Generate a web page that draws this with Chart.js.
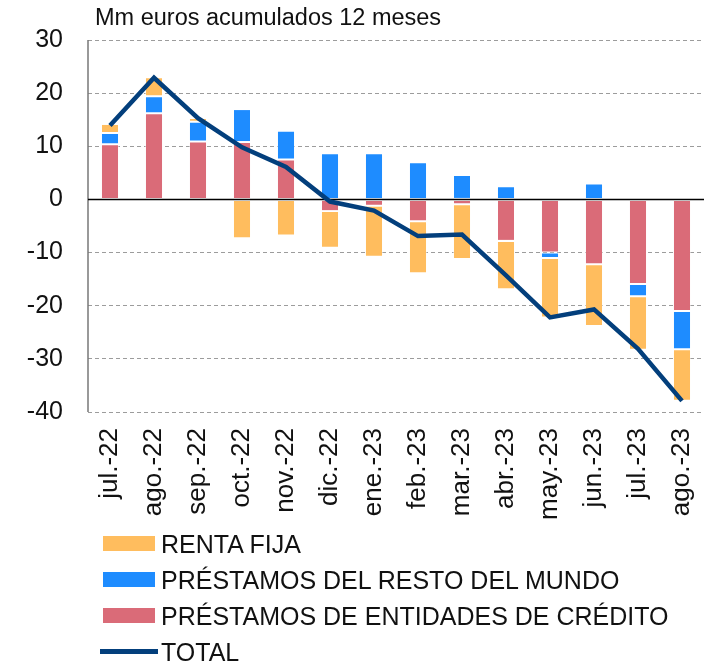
<!DOCTYPE html>
<html>
<head>
<meta charset="utf-8">
<script src="https://cdn.jsdelivr.net/npm/chart.js@4"></script>
<style>
  body { margin: 0; background: #fff; font-family: "Liberation Sans", Arial, sans-serif; }
  #wrap { position: relative; width: 715px; height: 664px; }
  #title { position: absolute; left: 95px; top: 6px; font-size: 23.5px; line-height: 1; color: #111; white-space: nowrap; }
  #legend { position: absolute; left: 0; top: 526px; }
  .row { position: relative; height: 36px; width: 700px; font-size: 25px; line-height: 36px; color: #111; white-space: nowrap; }
  .row .box { position: absolute; left: 103px; top: 10px; width: 52px; height: 15px; }
  .row .ln { position: absolute; left: 100px; top: 15px; width: 58px; height: 5px; }
  .row span { position: absolute; left: 161px; top: 0; }
</style>
</head>
<body>
<div id="wrap">
  <canvas id="chart" width="715" height="540"></canvas>
  <div id="title">Mm euros acumulados 12 meses</div>
  <div id="legend"></div>
</div>
<script>
const labels = ["jul.-22", "ago.-22", "sep.-22", "oct.-22", "nov.-22", "dic.-22", "ene.-23",
                "feb.-23", "mar.-23", "abr.-23", "may.-23", "jun.-23", "jul.-23", "ago.-23"];

const rentaFija   = [1.7, 3.6, 0.7, -7.3, -6.8, -6.9, -9.6, -9.8, -10.3, -9.1, -11.2, -11.6, -10.1, -9.7];
const restoMundo  = [2.1, 3.2, 3.7, 6.2, 5.4, 8.7, 8.7, 7.0, 4.6, 2.5, -1.0, 3.0, -2.3, -7.2];
const entidades   = [10.4, 16.2, 10.9, 10.8, 7.5, -2.2, -1.2, -4.1, -0.9, -7.8, -10.0, -12.2, -15.9, -21.0];
const total       = [13.9, 22.9, 15.3, 9.8, 6.1, -0.4, -2.1, -6.9, -6.6, -14.3, -22.2, -20.7, -28.1, -37.9];

const yTicks = [30, 20, 10, 0, -10, -20, -30, -40];

const names = ["RENTA FIJA", "PRÉSTAMOS DEL RESTO DEL MUNDO", "PRÉSTAMOS DE ENTIDADES DE CRÉDITO", "TOTAL"];
const colors = ["#FFBD5E", "#1E8CFF", "#DA6B78", "#033F7C"];

const FONT = "'Liberation Sans', Arial, sans-serif";

// axis line on the left and the black line at zero
const axesPlugin = {
  id: "axes",
  beforeDatasetsDraw(chart) {
    const { ctx, chartArea } = chart;
    ctx.save();
    ctx.strokeStyle = "#777";
    ctx.lineWidth = 1.5;
    ctx.beginPath();
    ctx.moveTo(chartArea.left, chartArea.top);
    ctx.lineTo(chartArea.left, chartArea.bottom);
    ctx.stroke();
    ctx.restore();
  },
  beforeDatasetDraw(chart, args) {
    if (chart.data.datasets[args.index].type !== "line") return;
    const { ctx, chartArea } = chart;
    const y0 = chart.scales.y.getPixelForValue(0);
    ctx.save();
    ctx.strokeStyle = "#000";
    ctx.lineWidth = 1.5;
    ctx.beginPath();
    ctx.moveTo(chartArea.left, y0);
    ctx.lineTo(chartArea.right, y0);
    ctx.stroke();
    ctx.restore();
  }
};

function barSet(i, data, order) {
  return {
    type: "bar",
    label: names[i],
    data: data,
    backgroundColor: colors[i],
    borderColor: "rgba(255,255,255,0.45)",
    borderWidth: 1,
    borderSkipped: false,
    stack: "s",
    order: order,
    categoryPercentage: 1,
    barPercentage: 0.41
  };
}

new Chart(document.getElementById("chart"), {
  data: {
    labels: labels,
    datasets: [
      barSet(0, rentaFija, 3),
      barSet(1, restoMundo, 2),
      barSet(2, entidades, 1),
      {
        type: "line",
        label: names[3],
        data: total,
        borderColor: colors[3],
        borderWidth: 4.5,
        pointRadius: 0,
        tension: 0,
        stack: "line",
        order: 0,
        borderJoinStyle: "miter"
      }
    ]
  },
  options: {
    responsive: false,
    animation: false,
    devicePixelRatio: 1,
    layout: { padding: { top: 40, right: 0, left: 0, bottom: 0 } },
    plugins: { legend: { display: false }, tooltip: { enabled: false } },
    scales: {
      x: {
        stacked: true,
        offset: true,
        grid: { display: false, drawTicks: false },
        border: { display: false },
        ticks: {
          minRotation: 90, maxRotation: 90, autoSkip: false,
          padding: 16, color: "#111",
          font: { family: FONT, size: 26 }
        },
        afterFit(scale) {
          scale.height = 128;
          scale.paddingLeft = 0;
          scale.paddingRight = 11;
        }
      },
      y: {
        stacked: true,
        min: -40, max: 30,
        afterBuildTicks(scale) { scale.ticks = yTicks.map(v => ({ value: v })); },
        grid: {
          drawTicks: false,
          lineWidth: 1,
          color: c => (c.tick && c.tick.value === 0) ? "rgba(0,0,0,0)" : "#9c9c9c"
        },
        border: { display: false, dash: [4, 3] },
        ticks: {
          padding: 25, color: "#111",
          font: { family: FONT, size: 25 }
        },
        afterFit(scale) { scale.width = 88; }
      }
    }
  },
  plugins: [axesPlugin]
});

// legend below the chart
const legend = document.getElementById("legend");
names.forEach((name, i) => {
  const row = document.createElement("div");
  row.className = "row";
  const mark = document.createElement("div");
  mark.className = i === 3 ? "ln" : "box";
  mark.style.background = colors[i];
  const txt = document.createElement("span");
  txt.textContent = name;
  row.appendChild(mark);
  row.appendChild(txt);
  legend.appendChild(row);
});
</script>
</body>
</html>
